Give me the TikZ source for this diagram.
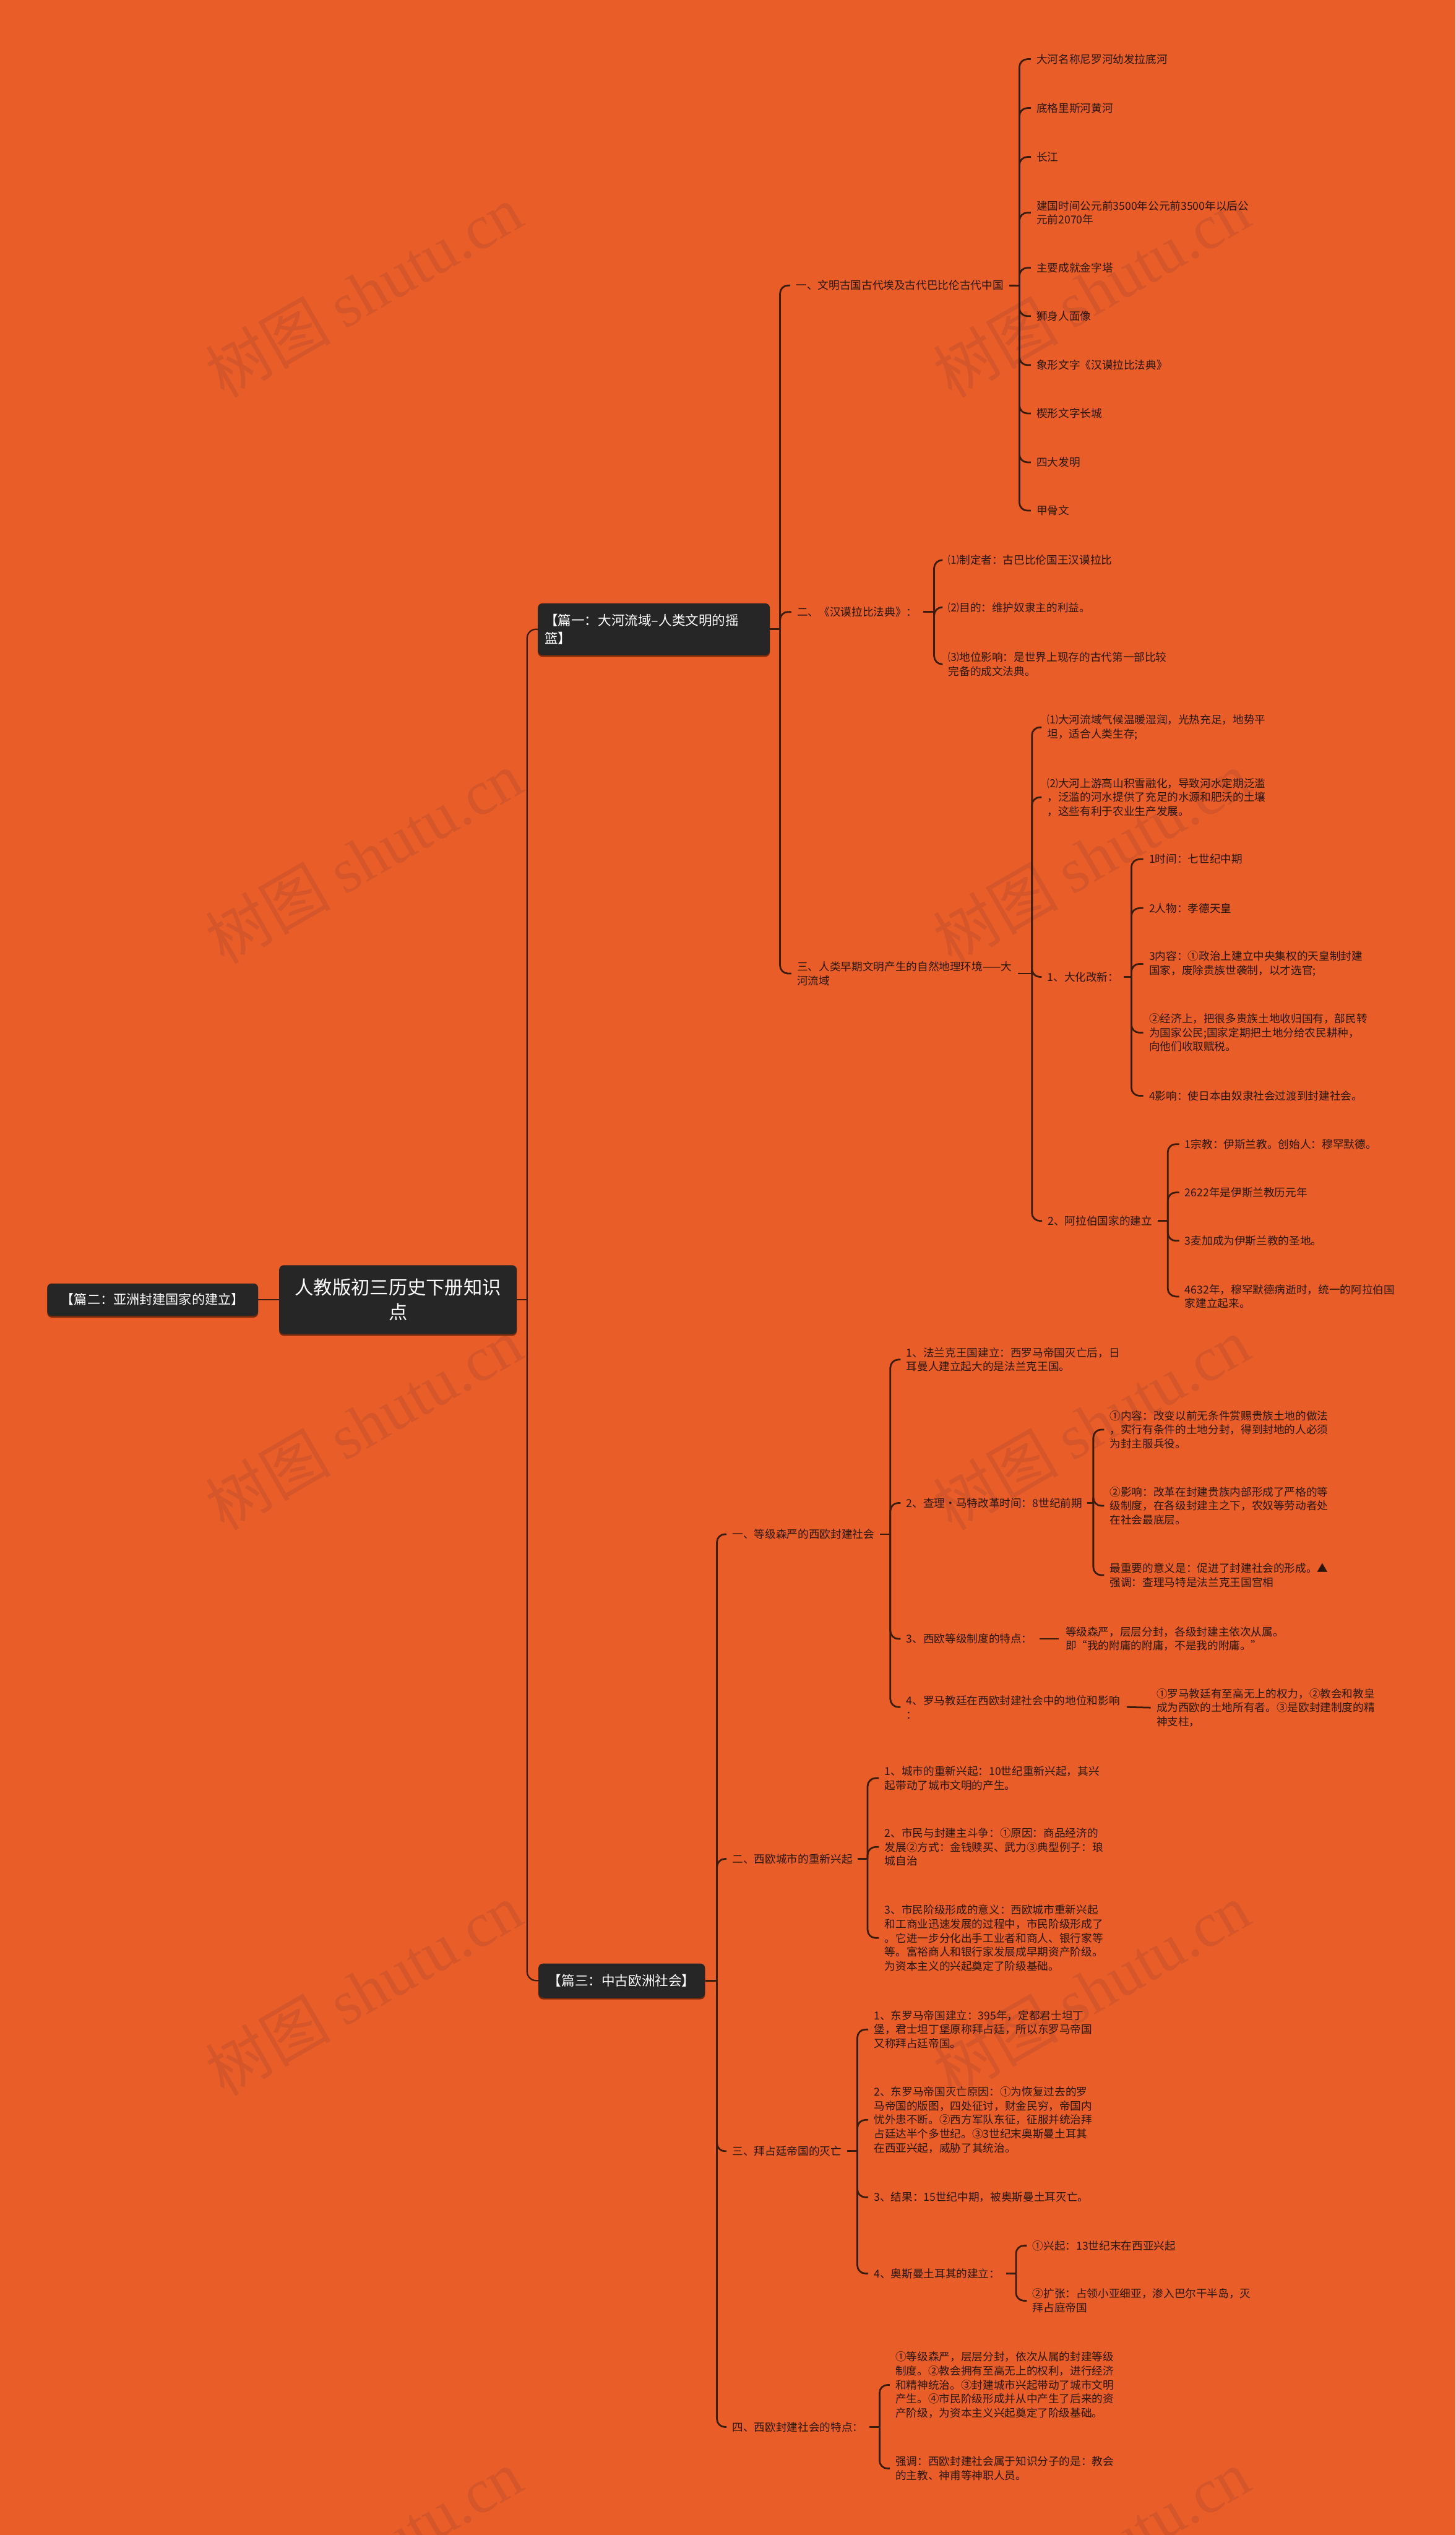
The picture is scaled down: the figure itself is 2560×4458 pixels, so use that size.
\documentclass[tikz,border=0pt]{standalone}
\usepackage{fontspec}
\setmainfont{Noto Sans CJK SC}
\newfontfamily\wmlatin{Liberation Serif}
\definecolor{bgc}{RGB}{233,94,40}
\definecolor{linec}{RGB}{58,28,12}
\definecolor{txtc}{RGB}{42,22,14}
\definecolor{boxc}{RGB}{38,38,38}
\definecolor{shadc}{RGB}{120,42,14}
\definecolor{wmc}{RGB}{212,86,42}
\begin{document}
\begin{tikzpicture}[x=1pt,y=-1pt,
 leaf/.style={anchor=west,inner sep=0pt,align=left,text=txtc,font=\fontsize{19.2}{24.6}\selectfont},
 conn/.style={draw=linec,line width=3pt,rounded corners=14pt},
 rootconn/.style={draw=linec,line width=2.5pt,rounded corners=16pt},
 darkbox/.style={fill=boxc,rounded corners=8pt,text=white,inner sep=0pt,
   preaction={fill=shadc,transform canvas={yshift=-3pt}}},
 wm/.style={text=wmc,rotate=30,inner sep=0pt,font=\fontsize{110}{110}\selectfont}
]
\useasboundingbox (0,0) rectangle (2560,4458);
\fill[bgc] (0,0) rectangle (2560,4458);

% watermarks
\begin{scope}
\clip (0,0) rectangle (2560,4458);
\foreach \wx/\wy/\wn in {640/512/w1,1920/512/w2,640/1507/w3,1920/1507/w4,640/2503/w5,1920/2503/w6,640/3498/w7,1920/3498/w8,640/4494/w9,1920/4494/w10}{
  \node[wm] (\wn) at (\wx,\wy) {树图 {\wmlatin shutu.cn}};
}
\end{scope}

% ---------- top level boxes ----------
\node[darkbox,minimum width=418pt,minimum height=121pt,align=center,
  font=\fontsize{33}{44}\selectfont] (root) at (700,2285.5) {人教版初三历史下册知识\\点};
\node[darkbox,minimum width=371pt,minimum height=57pt,
  font=\fontsize{23}{30}\selectfont] (p2) at (268.5,2285.5) {【篇二：亚洲封建国家的建立】};
\node[darkbox,text width=384pt,align=left,inner xsep=12pt,minimum height=91pt,
  font=\fontsize{23.5}{32}\selectfont] (p1) at (1150,1106.5) {【篇一：大河流域–人类文明的摇\\篮】};
\node[darkbox,minimum width=293pt,minimum height=60pt,
  font=\fontsize{23.5}{30}\selectfont] (p3) at (1093.5,3483) {【篇三：中古欧洲社会】};

\coordinate (b0) at (927,2285.5);
\draw[rootconn] (root.west) -- (p2.east);
\draw[rootconn] (root.east) -- (b0);
\draw[rootconn] (b0) |- (p1.west);
\draw[rootconn] (b0) |- (p3.west);

% ---------- 篇一 ----------
\coordinate (b1) at (1372,1106.5);
\draw[conn] (p1.east) -- (b1);
\node[leaf] (a1) at (1400,502) {一、文明古国古代埃及古代巴比伦古代中国};
\node[leaf] (a2) at (1402,1076) {二、《汉谟拉比法典》：};
\node[leaf] (a3) at (1402,1712) {三、人类早期文明产生的自然地理环境——大\\河流域};
\foreach \n in {a1,a2,a3}{\draw[conn] (b1) |- ([xshift=-10pt]\n.west);}

% a1 children
\coordinate (b2) at (1793,502);
\draw[conn] ([xshift=10pt]a1.east) -- (b2);
\node[leaf] (c1) at (1823,104) {大河名称尼罗河幼发拉底河};
\node[leaf] (c2) at (1823,190) {底格里斯河黄河};
\node[leaf] (c3) at (1823,276) {长江};
\node[leaf] (c4) at (1823,374) {建国时间公元前3500年公元前3500年以后公\\元前2070年};
\node[leaf] (c5) at (1823,471) {主要成就金字塔};
\node[leaf] (c6) at (1823,556) {狮身人面像};
\node[leaf] (c7) at (1823,642) {象形文字《汉谟拉比法典》};
\node[leaf] (c8) at (1823,727) {楔形文字长城};
\node[leaf] (c9) at (1823,813) {四大发明};
\node[leaf] (c10) at (1823,898) {甲骨文};
\foreach \n in {c1,c2,c3,c4,c5,c6,c7,c8,c9,c10}{\draw[conn] (b2) |- ([xshift=-10pt]\n.west);}

% a2 children
\coordinate (b3) at (1643,1076);
\draw[conn] ([xshift=10pt]a2.east) -- (b3);
\node[leaf] (d1) at (1668,985) {⑴制定者：古巴比伦国王汉谟拉比};
\node[leaf] (d2) at (1668,1068) {⑵目的：维护奴隶主的利益。};
\node[leaf] (d3) at (1668,1168) {⑶地位影响：是世界上现存的古代第一部比较\\完备的成文法典。};
\foreach \n in {d1,d2,d3}{\draw[conn] (b3) |- ([xshift=-10pt]\n.west);}

% a3 children
\coordinate (b4) at (1815,1712);
\draw[conn] ([xshift=10pt]a3.east) -- (b4);
\node[leaf] (e1) at (1842,1279) {⑴大河流域气候温暖湿润，光热充足，地势平\\坦，适合人类生存;};
\node[leaf] (e2) at (1842,1402) {⑵大河上游高山积雪融化，导致河水定期泛滥\\，泛滥的河水提供了充足的水源和肥沃的土壤\\，这些有利于农业生产发展。};
\node[leaf] (e3) at (1842,1718) {1、大化改新：};
\node[leaf] (e4) at (1843,2147) {2、阿拉伯国家的建立};
\foreach \n in {e1,e2,e3,e4}{\draw[conn] (b4) |- ([xshift=-10pt]\n.west);}

% 大化改新
\coordinate (b5) at (1990,1718);
\draw[conn] ([xshift=8pt]e3.east) -- (b5);
\node[leaf] (f1) at (2021,1511) {1时间：七世纪中期};
\node[leaf] (f2) at (2021,1597) {2人物：孝德天皇};
\node[leaf] (f3) at (2021,1695) {3内容：①政治上建立中央集权的天皇制封建\\国家，废除贵族世袭制，以才选官;};
\node[leaf] (f4) at (2021,1816) {②经济上，把很多贵族土地收归国有，部民转\\为国家公民;国家定期把土地分给农民耕种，\\向他们收取赋税。};
\node[leaf] (f5) at (2021,1927) {4影响：使日本由奴隶社会过渡到封建社会。};
\foreach \n in {f1,f2,f3,f4,f5}{\draw[conn] (b5) |- ([xshift=-10pt]\n.west);}

% 阿拉伯
\coordinate (b6) at (2054,2147);
\draw[conn] ([xshift=10pt]e4.east) -- (b6);
\node[leaf] (g1) at (2084,2012) {1宗教：伊斯兰教。创始人：穆罕默德。};
\node[leaf] (g2) at (2084,2097) {2622年是伊斯兰教历元年};
\node[leaf] (g3) at (2084,2182) {3麦加成为伊斯兰教的圣地。};
\node[leaf] (g4) at (2084,2280) {4632年，穆罕默德病逝时，统一的阿拉伯国\\家建立起来。};
\foreach \n in {g1,g2,g3,g4}{\draw[conn] (b6) |- ([xshift=-10pt]\n.west);}

% ---------- 篇三 ----------
\coordinate (b7) at (1261,3483);
\draw[conn] (p3.east) -- (b7);
\node[leaf] (h1) at (1288,2698) {一、等级森严的西欧封建社会};
\node[leaf] (h2) at (1288,3269) {二、西欧城市的重新兴起};
\node[leaf] (h3) at (1288,3783) {三、拜占廷帝国的灭亡};
\node[leaf] (h4) at (1288,4268) {四、西欧封建社会的特点：};
\foreach \n in {h1,h2,h3,h4}{\draw[conn] (b7) |- ([xshift=-10pt]\n.west);}

% 一
\coordinate (b8) at (1566,2698);
\draw[conn] ([xshift=10pt]h1.east) -- (b8);
\node[leaf] (i1) at (1594,2391) {1、法兰克王国建立：西罗马帝国灭亡后，日\\耳曼人建立起大的是法兰克王国。};
\node[leaf] (i2) at (1594,2643) {2、查理•马特改革时间：8世纪前期};
\node[leaf] (i3) at (1594,2882) {3、西欧等级制度的特点：};
\node[leaf] (i4) at (1594,3002) {4、罗马教廷在西欧封建社会中的地位和影响\\：};
\foreach \n in {i1,i2,i3,i4}{\draw[conn] (b8) |- ([xshift=-10pt]\n.west);}

\coordinate (b9) at (1923,2643);
\draw[conn] ([xshift=8pt]i2.east) -- (b9);
\node[leaf] (j1) at (1952,2514) {①内容：改变以前无条件赏赐贵族土地的做法\\，实行有条件的土地分封，得到封地的人必须\\为封主服兵役。};
\node[leaf] (j2) at (1952,2648) {②影响：改革在封建贵族内部形成了严格的等\\级制度，在各级封建主之下，农奴等劳动者处\\在社会最底层。};
\node[leaf] (j3) at (1952,2770) {最重要的意义是：促进了封建社会的形成。▲\\强调：查理马特是法兰克王国宫相};
\foreach \n in {j1,j2,j3}{\draw[conn] (b9) |- ([xshift=-10pt]\n.west);}

\node[leaf] (k1) at (1874,2882) {等级森严，层层分封，各级封建主依次从属。\\即“我的附庸的附庸，不是我的附庸。”};
\draw[conn] ([xshift=12pt]i3.east) -- ([xshift=-12pt]k1.west);
\node[leaf] (k2) at (2034,3003) {①罗马教廷有至高无上的权力，②教会和教皇\\成为西欧的土地所有者。③是欧封建制度的精\\神支柱，};
\draw[conn] ([xshift=12pt]i4.east) -- ([xshift=-10pt]k2.west);

% 二
\coordinate (b10) at (1526,3269);
\draw[conn] ([xshift=9pt]h2.east) -- (b10);
\node[leaf] (l1) at (1556,3127) {1、城市的重新兴起：10世纪重新兴起，其兴\\起带动了城市文明的产生。};
\node[leaf] (l2) at (1556,3248) {2、市民与封建主斗争：①原因：商品经济的\\发展②方式：金钱赎买、武力③典型例子：琅\\城自治};
\node[leaf] (l3) at (1556,3408) {3、市民阶级形成的意义：西欧城市重新兴起\\和工商业迅速发展的过程中，市民阶级形成了\\。它进一步分化出手工业者和商人、银行家等\\等。富裕商人和银行家发展成早期资产阶级。\\为资本主义的兴起奠定了阶级基础。};
\foreach \n in {l1,l2,l3}{\draw[conn] (b10) |- ([xshift=-10pt]\n.west);}

% 三
\coordinate (b11) at (1508,3783);
\draw[conn] ([xshift=10pt]h3.east) -- (b11);
\node[leaf] (m1) at (1537,3569) {1、东罗马帝国建立：395年，定都君士坦丁\\堡，君士坦丁堡原称拜占廷，所以东罗马帝国\\又称拜占廷帝国。};
\node[leaf] (m2) at (1537,3728) {2、东罗马帝国灭亡原因：①为恢复过去的罗\\马帝国的版图，四处征讨，财金民穷，帝国内\\忧外患不断。②西方军队东征，征服并统治拜\\占廷达半个多世纪。③3世纪末奥斯曼土耳其\\在西亚兴起，威胁了其统治。};
\node[leaf] (m3) at (1537,3864) {3、结果：15世纪中期，被奥斯曼土耳灭亡。};
\node[leaf] (m4) at (1537,3998) {4、奥斯曼土耳其的建立：};
\foreach \n in {m1,m2,m3,m4}{\draw[conn] (b11) |- ([xshift=-10pt]\n.west);}

\coordinate (b12) at (1787,3998);
\draw[conn] ([xshift=10pt]m4.east) -- (b12);
\node[leaf] (n1) at (1816,3949) {①兴起：13世纪末在西亚兴起};
\node[leaf] (n2) at (1816,4046) {②扩张：占领小亚细亚，渗入巴尔干半岛，灭\\拜占庭帝国};
\foreach \n in {n1,n2}{\draw[conn] (b12) |- ([xshift=-10pt]\n.west);}

% 四
\coordinate (b13) at (1547,4268);
\draw[conn] ([xshift=10pt]h4.east) -- (b13);
\node[leaf] (o1) at (1575,4194) {①等级森严，层层分封，依次从属的封建等级\\制度。②教会拥有至高无上的权利，进行经济\\和精神统治。③封建城市兴起带动了城市文明\\产生。④市民阶级形成并从中产生了后来的资\\产阶级，为资本主义兴起奠定了阶级基础。};
\node[leaf] (o2) at (1575,4341) {强调：西欧封建社会属于知识分子的是：教会\\的主教、神甫等神职人员。};
\foreach \n in {o1,o2}{\draw[conn] (b13) |- ([xshift=-10pt]\n.west);}
\end{tikzpicture}
\end{document}
